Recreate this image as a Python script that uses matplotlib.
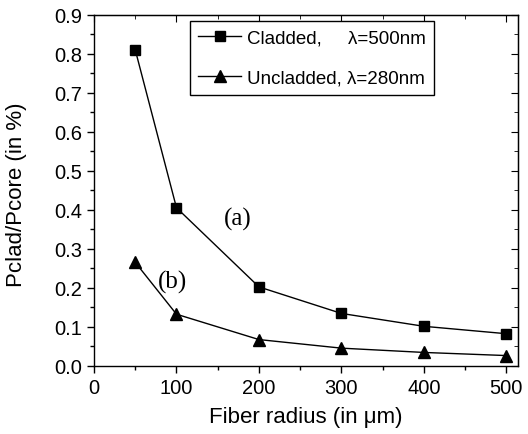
import matplotlib
matplotlib.use("Agg")
import matplotlib.pyplot as plt
from matplotlib.ticker import MultipleLocator, FormatStrFormatter

plt.rcParams['font.family'] = ['Liberation Sans', 'DejaVu Sans']

radius = [50, 100, 200, 300, 400, 500]
cladded = [0.81, 0.405, 0.202, 0.134, 0.101, 0.082]
uncladded = [0.265, 0.132, 0.067, 0.045, 0.034, 0.026]

fig = plt.figure(figsize=(5.28, 4.35), dpi=100)
ax = fig.add_axes([0.178, 0.157, 0.803, 0.807])

ax.plot(radius, cladded, color='black', lw=1.0, marker='s', ms=7,
        label='Cladded,     \u03bb=500nm')
ax.plot(radius, uncladded, color='black', lw=1.0, marker='^', ms=8,
        label='Uncladded, \u03bb=280nm')

ax.set_xlim(0, 514)
ax.set_ylim(0, 0.9)
ax.xaxis.set_major_locator(MultipleLocator(100))
ax.xaxis.set_minor_locator(MultipleLocator(50))
ax.yaxis.set_major_locator(MultipleLocator(0.1))
ax.yaxis.set_minor_locator(MultipleLocator(0.05))
ax.yaxis.set_major_formatter(FormatStrFormatter('%.1f'))

ax.tick_params(which='both', direction='out', top=False, right=False,
               labelsize=14.5, width=1)
ax.tick_params(which='major', length=5)
ax.tick_params(which='minor', length=3)

# inward ticks along the top and right edges
top = ax.secondary_xaxis('top')
top.xaxis.set_major_locator(MultipleLocator(100))
top.xaxis.set_minor_locator(MultipleLocator(50))
right = ax.secondary_yaxis('right')
right.yaxis.set_major_locator(MultipleLocator(0.1))
right.yaxis.set_minor_locator(MultipleLocator(0.05))
for sec in (top, right):
    sec.tick_params(which='both', direction='in', labeltop=False, labelright=False)
    sec.tick_params(which='major', length=5)
    sec.tick_params(which='minor', length=3)

for s in ax.spines.values():
    s.set_linewidth(1.0)

ax.set_xlabel('Fiber radius (in \u03bcm)', fontsize=16, labelpad=7)
ax.set_ylabel('Pclad/Pcore (in %)', fontsize=16)
ax.yaxis.set_label_coords(-0.158, 0.49)

ax.text(174, 0.378, '(a)', family='Liberation Serif', fontsize=18, ha='center', va='center')
ax.text(95, 0.217, '(b)', family='Liberation Serif', fontsize=18, ha='center', va='center')

leg = ax.legend(loc='upper left', bbox_to_anchor=(0.226, 0.983), fontsize=13.5,
                frameon=True, fancybox=False, edgecolor='black', framealpha=1,
                labelspacing=1.25, handlelength=2.3, handletextpad=0.3,
                borderpad=0.45, borderaxespad=0)
leg.get_frame().set_linewidth(1.0)

fig.savefig('out.png', dpi=100)
